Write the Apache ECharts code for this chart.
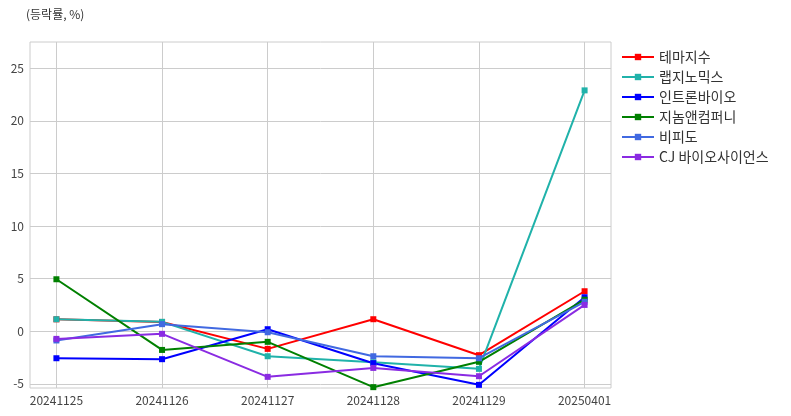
<!DOCTYPE html>
<html><head><meta charset="utf-8">
<script src="https://cdn.jsdelivr.net/npm/echarts@6/dist/echarts.min.js"></script>
<style>html,body{margin:0;padding:0;background:#fff}#c{width:791px;height:416px}</style>
</head><body><div id="c"></div>
<script>
const dates = ['20241125','20241126','20241127','20241128','20241129','20250401'];
const yTicks = [-5, 0, 5, 10, 15, 20, 25];
const names = ['테마지수','랩지노믹스','인트론바이오','지놈앤컴퍼니','비피도','CJ 바이오사이언스'];
const colors = ['#ff0000','#20b2aa','#0000ff','#008000','#4169e1','#8a2be2'];
const themeIdx   = [1.13, 0.88, -1.68, 1.14, -2.28, 3.80];
const labgenomics = [1.14, 0.89, -2.38, -2.95, -3.58, 22.90];
const intron     = [-2.57, -2.66, 0.19, -3.04, -5.10, 3.23];
const genome     = [4.94, -1.78, -1.01, -5.32, -2.91, 3.00];
const bifido     = [-0.88, 0.67, -0.10, -2.38, -2.57, 2.80];
const cjbio      = [-0.73, -0.25, -4.34, -3.49, -4.28, 2.50];
const seriesVals = [themeIdx, labgenomics, intron, genome, bifido, cjbio];

const FONT = '"Noto Sans CJK KR", "Noto Sans", sans-serif';
const chart = echarts.init(document.getElementById('c'));
chart.setOption({
  animation: false,
  backgroundColor: '#fff',
  textStyle: { fontFamily: FONT },
  title: { text: '(등락률, %)', left: 21, top: 3, textStyle: { fontSize: 12, fontWeight: 'normal', color: '#333', fontFamily: FONT } },
  grid: { left: 30, right: 180, top: 42, bottom: 28, show: true, borderColor: '#cccccc', borderWidth: 1 },
  legend: {
    orient: 'vertical', left: 616, top: 45, itemWidth: 32, itemHeight: 8, itemGap: 6,
    textStyle: { fontSize: 14, color: '#333', fontFamily: FONT },
    data: names
  },
  xAxis: {
    type: 'value', min: -0.25, max: 5.25,
    axisLine: { show: false },
    axisTick: { show: false, customValues: [0,1,2,3,4,5] },
    axisLabel: { customValues: [0,1,2,3,4,5], formatter: v => dates[Math.round(v)], fontSize: 12, color: '#444', margin: 6, fontFamily: FONT },
    splitLine: { show: true, lineStyle: { color: '#cccccc', width: 1 } }
  },
  yAxis: {
    type: 'value', min: -5.4, max: 27.5,
    axisLine: { show: false },
    axisTick: { show: false, customValues: yTicks },
    axisLabel: { customValues: yTicks, fontSize: 12, color: '#444', margin: 6, fontFamily: FONT },
    splitLine: { show: true, lineStyle: { color: '#cccccc', width: 1 } }
  },
  series: names.map((n, i) => ({
    name: n, type: 'line',
    data: seriesVals[i].map((v, j) => [j, v]),
    symbol: 'rect', symbolSize: 6, showSymbol: true,
    color: colors[i],
    lineStyle: { width: 2, color: colors[i] },
    itemStyle: { color: colors[i] },
    clip: true
  }))
});
</script></body></html>
